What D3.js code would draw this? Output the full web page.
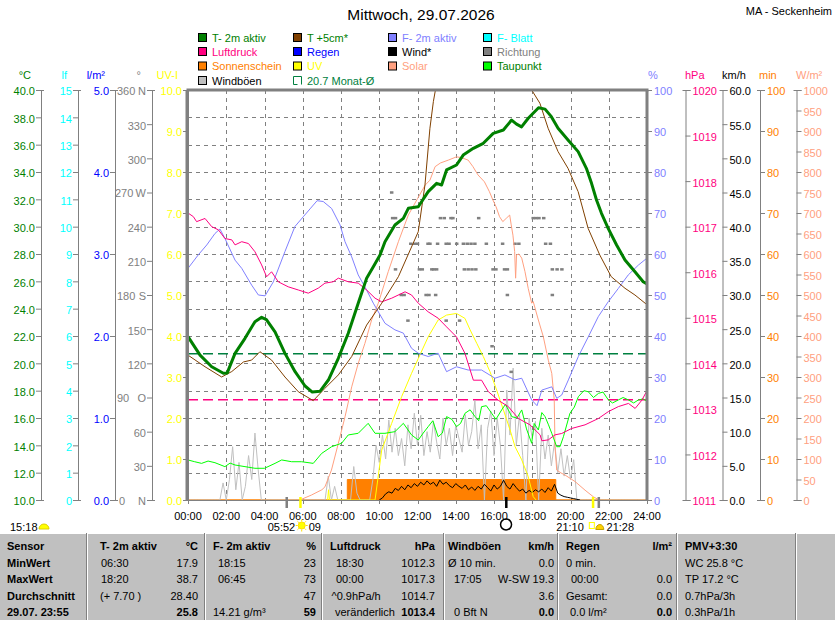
<!DOCTYPE html>
<html><head><meta charset="utf-8">
<script src="https://cdn.jsdelivr.net/npm/d3@7"></script>
<style>
body{margin:0;background:#fff;}
svg{display:block;font-family:"Liberation Sans",Arial,sans-serif;}
</style></head><body>
<svg id="c" width="835" height="620"></svg>
<script>
// ---------------- DATA ----------------
const title = "Mittwoch, 29.07.2026";
const station = "MA - Seckenheim";
const timeTicks = ["00:00","02:00","04:00","06:00","08:00","10:00","12:00","14:00","16:00","18:00","20:00","22:00","24:00"];

// [hour, °C]
const temp2m = [[0,21.95],[0.63,20.6],[1.24,19.75],[1.85,19.27],[2.05,19.3],[2.46,20.73],[2.98,21.83],[3.5,23.05],[3.85,23.37],[4.1,23.2],[4.55,22.3],[5.07,20.73],[5.6,19.39],[6.12,18.34],[6.5,17.9],[6.9,17.95],[7.34,18.78],[7.86,20.37],[8.38,22.2],[8.9,24.4],[9.34,26.22],[9.69,27.07],[10.04,27.93],[10.3,28.9],[10.82,30.12],[11.26,30.61],[11.52,31.34],[12.04,31.46],[12.56,32.56],[13.0,33.17],[13.26,33.05],[13.52,34.15],[14.04,34.51],[14.39,35.24],[14.92,35.73],[15.44,36.1],[15.96,36.83],[16.49,37.07],[16.92,37.8],[17.18,37.5],[17.44,37.3],[17.79,37.93],[18.33,38.7],[18.67,38.6],[19.0,38.05],[19.35,37.2],[19.87,36.34],[20.4,35.49],[20.83,34.27],[21.1,33.17],[21.36,31.95],[21.62,30.98],[21.97,29.88],[22.41,28.66],[22.85,27.56],[23.37,26.7],[23.8,25.97],[24,25.8]];
const temp5cm = [[0,20.6],[0.89,19.75],[1.76,19.0],[2.29,19.4],[2.9,20.1],[3.33,20.24],[3.76,20.85],[4.37,20.24],[5.07,19.0],[5.77,17.92],[6.55,17.27],[7.16,18.17],[7.86,19.15],[8.56,20.5],[9.34,22.8],[10.13,24.4],[11.0,26.34],[12.04,29.63],[12.39,33.05],[12.65,37.2],[12.83,39.15],[13.0,40.5],[13.5,44],[14.5,47],[15.5,48],[16.5,46.5],[17.5,42.5],[17.97,40.0],[18.4,39.03],[18.83,37.2],[19.35,35.49],[19.87,34.27],[20.4,32.56],[20.92,29.88],[21.53,27.93],[22.13,26.34],[22.85,25.49],[23.37,25.0],[23.9,24.4],[24,24.3]];
const dewPoint = [[0,12.93],[0.35,12.8],[0.71,12.68],[1.05,12.85],[1.41,12.73],[1.93,12.44],[2.2,12.7],[2.46,12.56],[2.98,12.44],[3.5,12.32],[4.0,12.32],[4.55,12.68],[4.9,12.93],[5.42,12.8],[5.94,12.8],[6.55,12.68],[6.99,13.41],[7.51,13.9],[8.03,14.15],[8.38,14.76],[8.9,14.88],[9.42,15.61],[9.78,14.88],[10.3,14.88],[10.82,15.0],[11.26,15.61],[11.69,14.76],[12.04,14.39],[12.3,14.9],[12.56,15.37],[12.8,15.8],[13.08,14.63],[13.3,14.9],[13.52,16.1],[13.8,15.9],[14.04,15.37],[14.25,15.6],[14.48,16.34],[14.75,16.6],[15.01,16.1],[15.2,15.8],[15.35,16.83],[15.6,16.9],[15.88,16.34],[16.1,15.9],[16.4,16.59],[16.6,17.0],[16.93,16.1],[17.2,16.0],[17.45,16.59],[17.7,15.2],[17.97,14.15],[18.1,15.6],[18.32,15.12],[18.5,16.4],[18.67,16.1],[18.85,15.5],[19.02,14.88],[19.28,13.9],[19.45,13.9],[19.63,14.63],[19.97,16.34],[20.2,16.8],[20.41,17.56],[20.7,18.0],[20.93,17.92],[21.2,17.5],[21.46,17.8],[21.7,17.9],[21.98,17.32],[22.2,17.1],[22.5,17.32],[22.75,17.5],[23.03,17.32],[23.3,17.1],[23.55,17.32],[23.8,17.4],[24,17.2]];
// [hour, %]
const humidity = [[0,56.5],[0.54,59.8],[0.98,62.2],[1.41,65.0],[1.67,66.1],[1.93,63.8],[2.46,58.5],[2.81,56.5],[3.33,52.4],[3.68,50.0],[4.03,49.8],[4.46,53.2],[5.07,60.6],[5.59,66.7],[6.03,69.1],[6.38,71.0],[6.75,73],[7.07,72.8],[7.51,71.1],[7.95,67.1],[8.21,63.0],[8.56,59.3],[8.9,54.9],[9.34,51.2],[9.69,48.0],[10.3,43.1],[10.82,41.5],[11.26,40.7],[11.69,37.0],[12.04,35.8],[12.56,35.0],[13.08,35.8],[13.52,31.3],[14.04,32.5],[14.65,31.7],[15.35,31.7],[16.05,29.7],[16.57,30.5],[17.1,29.3],[17.45,29.7],[17.97,24.4],[18.25,23],[18.5,26.8],[19.02,27.6],[19.28,24.8],[19.54,25.6],[19.89,29.3],[20.41,35],[20.93,39.8],[21.45,44.7],[21.98,48.4],[22.5,51.6],[23.02,54.9],[23.55,57.3],[24,59]];
// [hour, hPa]
const pressure = [[0,1017.3],[0.28,1017.22],[0.45,1017.11],[0.89,1017.18],[1.24,1017.0],[1.59,1016.93],[1.93,1016.74],[2.29,1016.71],[2.46,1016.6],[2.81,1016.67],[3.16,1016.63],[3.5,1016.45],[3.85,1016.16],[4.11,1015.9],[4.37,1016.01],[4.72,1015.79],[5.24,1015.68],[5.77,1015.61],[6.29,1015.54],[6.81,1015.65],[7.16,1015.76],[7.59,1015.79],[7.86,1015.87],[8.38,1015.79],[8.9,1015.76],[9.34,1015.61],[9.78,1015.43],[10.13,1015.35],[10.65,1015.43],[11.35,1015.57],[11.69,1015.5],[12.04,1015.32],[12.56,1015.13],[13.08,1014.99],[13.52,1014.8],[14.04,1014.58],[14.48,1014.22],[14.92,1013.63],[15.35,1013.63],[15.7,1013.38],[16.22,1013.19],[16.75,1013.05],[17.27,1012.79],[17.88,1012.65],[18.41,1012.43],[18.5,1012.3],[18.84,1012.32],[19.19,1012.43],[19.54,1012.46],[20.06,1012.57],[20.76,1012.65],[21.46,1012.79],[21.98,1012.94],[22.5,1013.05],[23.03,1013.12],[23.38,1013.01],[23.73,1013.19],[24,1013.4]];
// [hour, W/m²]
const solar = [[5.85,0],[6.45,12],[7.0,25],[7.16,32],[7.5,73],[7.86,138],[8.21,203],[8.56,276],[8.9,333],[9.25,382],[9.6,439],[9.95,480],[10.47,557],[11.0,630],[11.52,695],[12.0,735],[12.4,768],[12.65,780],[12.92,813],[13.2,822],[13.61,829],[14.04,837],[14.3,835],[14.65,829],[14.9,813],[15.16,793],[15.5,776],[15.76,752],[15.94,732],[16.11,715],[16.29,691],[16.46,679],[16.64,687],[16.82,695],[16.9,671],[16.99,646],[17.08,606],[17.13,541],[17.18,598],[17.3,600],[17.45,590],[17.62,557],[17.79,516],[17.97,480],[18.05,484],[18.32,439],[18.58,398],[18.84,341],[19.02,309],[19.15,244],[19.19,130],[19.28,73],[19.5,66],[19.71,61],[20.24,45],[20.76,24],[21.19,8],[21.5,0]];
// [hour, UV index]
const uv = [[7.3,0],[7.35,0.25],[7.4,0],[9.78,0],[10.13,1.22],[10.65,1.87],[11.17,2.52],[11.69,3.09],[12.04,3.45],[12.56,3.98],[13.08,4.39],[13.52,4.51],[14.04,4.55],[14.48,4.43],[14.75,4.15],[15.1,3.82],[15.44,3.5],[15.79,3.13],[16.14,2.68],[16.49,2.2],[16.84,1.71],[17.1,1.3],[17.45,0.98],[17.79,0.57],[18.05,0.08],[18.2,0]];
// sunshine minutes per interval: [hour, min]
const sunshine = [[0,0],[8.33,0],[8.33,5],[19.23,5],[19.23,0],[24,0]];
// gusts km/h, every 10 minutes from 00:00
const gust = [
 0,0,0,0,0,0, 0,0,0,0,0,2.5,
 0,3.0,7.8,1.5,5.5,0,
 2.0,6.5,3.0,9.8,4.5,0,
 0,0,0,0,0,0,
 0,0,0,0,0,0,
 0,0,0,0,0,0,
 0,0,3.5,0,2.0,0,
 0,0,0,0,4.9,1.0,
 0,0,0,0,3.0,8.0,
 5.5,9.5,6.0,11.7,7.0,10.5,
 6.5,9.0,5.0,11.0,7.5,12.7,
 8.0,12.4,6.5,10.0,7.0,11.5,
 8.5,6.0,12.0,8.0,10.5,6.5,
 11.0,9.0,7.0,12.5,8.0,10.0,
 14.6,7.5,11.0,0,10.5,13.0,
 6.5,12.0,8.0,0,16.1,9.5,
 19.3,8.0,12.5,6.5,0,12.0,
 9.0,11.5,0,10.5,6.0,9.5,
 5.0,8.5,4.0,7.5,3.5,6.5,
 3.0,5.9,0,0,0,0,
 0,0,0,0,0,0,
 0,0,0,0,0,0,
 0,0,0,0,0,0,
 0];
// mean wind km/h, every 10 minutes from 10:00
const windStartHour = 10;
const wind = [0,0.3,0.9,1.2,1.0,1.7, 1.4,2.0,1.5,2.2,1.8,2.4, 2.0,2.6,2.2,2.8,2.3,2.6, 2.0,2.9,2.3,2.6,2.1,1.8, 2.4,2.0,1.7,2.2,1.5,1.9, 1.4,2.0,1.6,2.3,1.8,1.3, 2.2,1.6,2.0,2.9,2.0,1.6, 2.4,1.8,1.3,1.6,1.0,1.4, 1.1,1.5,1.2,1.6,1.1,1.8, 1.3,2.3,1.0,0.7,0.5,0.4, 0.3,0.2,0.1,0];
// wind direction [hour, degrees]
const direction = [[10.65,270],[10.7,247.5],[10.85,247.5],[10.85,202.5],[11.15,180],[11.3,180],[11.5,157.5],[11.65,225],[11.85,225],[12.0,225],[12.1,202.5],[12.25,202.5],[12.45,180],[12.55,225],[12.65,225],[12.6,180],[12.75,202.5],[12.85,202.5],[12.95,180],[13.0,202.5],[13.05,225],[13.2,247.5],[13.4,247.5],[13.5,225],[13.5,157.5],[13.65,225],[13.75,247.5],[13.85,247.5],[14.05,225],[14.2,157.5],[14.4,225],[14.45,202.5],[14.6,225],[14.65,202.5],[14.8,225],[14.85,202.5],[15.0,225],[15.05,202.5],[15.2,247.5],[15.6,225],[15.9,135],[15.95,202.5],[16.1,202.5],[16.45,225],[16.55,202.5],[16.7,202.5],[16.7,180],[16.9,112.5],[17.1,225],[17.3,225],[18.05,247.5],[18.2,247.5],[18.35,247.5],[18.6,247.5],[18.7,225],[18.95,225],[19.05,202.5],[19.05,180],[19.3,202.5],[19.55,202.5]];
const monthAvgTemp = 20.7;
const pressureRef = 1013.2;
const dirLabels = {0:["0","N"],90:["90","O"],180:["180","S"],270:["270","W"],360:["360","N"]};
// astronomical events [hour]
const moonset = 5.15, sunrise = 5.867, moonPhaseTime = 16.63, sunset = 21.167, moonrise = 21.467;

const legendRows = [
 [["T- 2m aktiv","#008000","#008000"],["T +5cm*","#804000","#008000"],["F- 2m aktiv","#8080FF","#8080FF"],["F- Blatt","#00FFFF","#00FFFF"]],
 [["Luftdruck","#FF0080","#FF0080"],["Regen","#0000FF","#0000FF"],["Wind*","#000000","#000000"],["Richtung","#808080","#808080"]],
 [["Sonnenschein","#FF8000","#FF8000"],["UV","#FFFF00","#FFFF00"],["Solar","#FFA080","#FFA080"],["Taupunkt","#00FF00","#008000"]],
 [["Windböen","#C0C0C0","#000000"],["20.7 Monat-Ø",null,"#008040"]]
];

const tableRows = [
 ["Sensor", ["T- 2m aktiv","°C"], ["F- 2m aktiv","%"], ["Luftdruck","hPa"], ["Windböen","km/h"], ["Regen","l/m²"], ["PMV+3:30"]],
 ["MinWert", ["06:30","17.9"], ["18:15","23"], ["18:30","1012.3"], ["Ø 10 min.","0.0"], ["0 min.",""], ["WC 25.8 °C"]],
 ["MaxWert", ["18:20","38.7"], ["06:45","73"], ["00:00","1017.3"], ["17:05","W-SW 19.3"], ["00:00","0.0"], ["TP 17.2 °C"]],
 ["Durchschnitt", ["(+ 7.70 )","28.40"], ["","47"], ["^0.9hPa/h","1014.7"], ["","3.6"], ["Gesamt:","0.0"], ["0.7hPa/3h"]],
 ["29.07. 23:55", ["","25.8"], ["14.21 g/m³","59"], ["veränderlich","1013.4"], ["0 Bft N","0.0"], ["0.0 l/m²","0.0"], ["0.3hPa/1h"]]
];

// ---------------- DRAW ----------------
const svg = d3.select("#c");
const L = 188, R = 647, T = 90, B = 500;
const x = d3.scaleLinear([0,24],[L,R]);
const yT = d3.scaleLinear([10,40],[B,T]);
const yLf = d3.scaleLinear([0,15],[B,T]);
const yRain = d3.scaleLinear([0,5],[B,T]);
const yDir = d3.scaleLinear([0,360],[B,T]);
const yUV = d3.scaleLinear([0,10],[B,T]);
const yHum = d3.scaleLinear([0,100],[B,T]);
const yP = d3.scaleLinear([1011,1020],[B,T]);
const yWind = d3.scaleLinear([0,60],[B,T]);
const yMin = d3.scaleLinear([0,100],[B,T]);
const ySol = d3.scaleLinear([0,1000],[B,T]);

// title
svg.append("text").attr("x",421).attr("y",20).attr("text-anchor","middle").attr("font-size",15.5).text(title);
svg.append("text").attr("x",832).attr("y",15).attr("text-anchor","end").attr("font-size",11).text(station);

// legend
const colX = [198.5,293.5,388.5,483.5], rowY = [37.5,51.5,66,80.5];
legendRows.forEach((row,ri)=>row.forEach((it,ci)=>{
  const bx = colX[ci], by = rowY[ri];
  if(it[1]){
    svg.append("rect").attr("x",bx).attr("y",by-4).attr("width",8).attr("height",8).attr("fill",it[1]).attr("stroke","#000");
  } else {
    svg.append("path").attr("d",`M${bx+4},${by+4}H${bx}V${by-4}H${bx+8}V${by+4}`).attr("fill","none").attr("stroke",it[2]);
  }
  svg.append("text").attr("x",bx+13.5).attr("y",by+4).attr("font-size",11).attr("fill",it[2]).text(it[0]);
}));

// grid
const grid = svg.append("g").attr("stroke","#808080").attr("stroke-dasharray","4,4");
d3.range(2,24,2).forEach(h=>grid.append("line").attr("x1",Math.round(x(h))+0.5).attr("x2",Math.round(x(h))+0.5).attr("y1",T).attr("y2",B));
d3.range(12,40,2).forEach(t=>grid.append("line").attr("x1",L).attr("x2",R).attr("y1",Math.round(yT(t))+0.5).attr("y2",Math.round(yT(t))+0.5));

// clip
svg.append("clipPath").attr("id","pc").append("rect").attr("x",L).attr("y",T).attr("width",R-L).attr("height",B-T);
const P = svg.append("g").attr("clip-path","url(#pc)");

// reference lines
P.append("line").attr("x1",L).attr("x2",R).attr("y1",yT(monthAvgTemp)).attr("y2",yT(monthAvgTemp)).attr("stroke","#008040").attr("stroke-width",1.5).attr("stroke-dasharray","10,5");
P.append("line").attr("x1",L).attr("x2",R).attr("y1",yP(pressureRef)).attr("y2",yP(pressureRef)).attr("stroke","#FF0080").attr("stroke-width",1.5).attr("stroke-dasharray","10,5");

// sunshine
P.append("path").datum(sunshine).attr("d",d3.area().x(d=>x(d[0])).y0(B).y1(d=>yMin(d[1]))).attr("fill","#FF8000").attr("stroke","#FF8000").attr("stroke-width",1);

const line = (ys)=>d3.line().x(d=>x(d[0])).y(d=>ys(d[1]));
// gusts
P.append("path").datum(gust.map((v,i)=>[i/6,v])).attr("d",line(yWind)).attr("fill","none").attr("stroke","#C0C0C0").attr("stroke-width",1);
// wind
P.append("path").datum(wind.map((v,i)=>[windStartHour+i/6,v])).attr("d",line(yWind)).attr("fill","none").attr("stroke","#000").attr("stroke-width",1);
// direction
P.selectAll("rect.dir").data(direction).join("rect").attr("class","dir")
 .attr("x",d=>x(d[0])-1.75).attr("y",d=>yDir(d[1])-1.25).attr("width",3.5).attr("height",2.5).attr("fill","#808080");
// solar, uv
P.append("path").datum(solar).attr("d",line(ySol)).attr("fill","none").attr("stroke","#FFA080");
P.append("path").datum(uv).attr("d",line(yUV)).attr("fill","none").attr("stroke","#FFFF00");
// humidity
P.append("path").datum(humidity).attr("d",line(yHum)).attr("fill","none").attr("stroke","#8080FF");
// dew point
P.append("path").datum(dewPoint).attr("d",line(yT)).attr("fill","none").attr("stroke","#00FF00");
// pressure
P.append("path").datum(pressure).attr("d",line(yP)).attr("fill","none").attr("stroke","#FF0080");
// temps
P.append("path").datum(temp5cm).attr("d",line(yT)).attr("fill","none").attr("stroke","#804000");
P.append("path").datum(temp2m).attr("d",line(yT)).attr("fill","none").attr("stroke","#008000").attr("stroke-width",3).attr("stroke-linejoin","round");

// frame
svg.append("line").attr("x1",L).attr("x2",R).attr("y1",B+0.5).attr("y2",B+0.5).attr("stroke","#808080");
svg.append("line").attr("x1",L-1.5).attr("x2",R+1.5).attr("y1",T).attr("y2",T).attr("stroke","#808080").attr("stroke-width",3);
svg.append("line").attr("x1",L-1).attr("x2",L-1).attr("y1",T).attr("y2",B+1).attr("stroke","#808080").attr("stroke-width",3);
svg.append("line").attr("x1",R).attr("x2",R).attr("y1",T).attr("y2",B+1).attr("stroke","#808080").attr("stroke-width",3);

// x axis
const xa = svg.append("g");
timeTicks.forEach((lab,i)=>{
  const h = i*2;
  xa.append("line").attr("x1",Math.round(x(h))+0.5).attr("x2",Math.round(x(h))+0.5).attr("y1",B).attr("y2",B+4).attr("stroke","#808080");
  xa.append("text").attr("x",x(h)).attr("y",519.5).attr("text-anchor","middle").attr("font-size",11).text(lab);
});

// vertical axes
function vAxis(scale, xPos, side, ticks, fmt, color){
  const ax = (side==="left"?d3.axisLeft(scale):d3.axisRight(scale)).tickValues(ticks).tickFormat(fmt).tickSize(5).tickSizeOuter(0).tickPadding(side==="left"?1:2);
  const g = svg.append("g").attr("transform",`translate(${xPos},0)`).call(ax).attr("font-family",null).attr("font-size",11);
  g.select(".domain").attr("stroke","#808080");
  g.selectAll(".tick line").attr("stroke","#808080");
  g.selectAll(".tick text").attr("fill",color).attr("dy","0.45em");
  scale.range().forEach(y=>g.append("line").attr("x1",side==="left"?-5:-3).attr("x2",side==="left"?3:5).attr("y1",Math.round(y)+0.5).attr("y2",Math.round(y)+0.5).attr("stroke","#808080"));
  return g;
}
vAxis(yT,41,"left",d3.range(10,41,2),d3.format(".1f"),"#008000");
vAxis(yLf,78,"left",d3.range(0,16,1),d3.format("d"),"#00FFFF");
vAxis(yRain,115,"left",d3.range(0,6,1),d3.format(".1f"),"#0000FF");
const gd = vAxis(yDir,152,"left",d3.range(0,361,30),d=>dirLabels[d]?"":d,"#808080");
Object.keys(dirLabels).forEach(k=>{
  const y = yDir(+k);
  gd.append("text").attr("x",+k===270?-37:(+k===0?-33:-35)).attr("y",y).attr("dy","0.45em").attr("text-anchor","start").attr("fill","#808080").text(dirLabels[k][0]);
  gd.append("text").attr("x",-6).attr("y",y).attr("dy","0.45em").attr("text-anchor","end").attr("fill","#808080").text(dirLabels[k][1]);
});
vAxis(yUV,L,"left",d3.range(0,11,1),d3.format(".1f"),"#FFFF00");
vAxis(yHum,R,"right",d3.range(0,101,10),d3.format("d"),"#8080FF");
vAxis(yP,685.5,"right",d3.range(1011,1021,1),d3.format("d"),"#FF0080");
vAxis(yWind,722.5,"right",d3.range(0,61,5),d3.format(".1f"),"#000000");
vAxis(yMin,760,"right",d3.range(0,101,10),d3.format("d"),"#FF8000");
vAxis(ySol,796.5,"right",d3.range(0,1001,50),d3.format("d"),"#FFA080");

// axis headers
[["°C",31,"end","#008000"],["lf",67,"end","#00FFFF"],["l/m²",105,"end","#0000FF"],["°",141,"end","#808080"],["UV-I",178,"end","#FFFF00"],
 ["%",648,"start","#8080FF"],["hPa",685,"start","#FF0080"],["km/h",722,"start","#000000"],["min",759,"start","#FF8000"],["W/m²",796,"start","#FFA080"]]
 .forEach(h=>svg.append("text").attr("x",h[1]).attr("y",78.5).attr("text-anchor",h[2]).attr("font-size",11).attr("fill",h[3]).text(h[0]));

// astronomical markers
[[moonset,"#808080"],[sunrise,"#FFFF00"],[moonPhaseTime,"#000000"],[sunset,"#FFFF00"],[moonrise,"#808080"]].forEach(m=>
  svg.append("rect").attr("x",x(m[0])-1).attr("y",497).attr("width",2.5).attr("height",11).attr("fill",m[1]));
function sun(cx,cy){
  const g = svg.append("g").attr("stroke","#FFE000").attr("fill","#FFFF00");
  d3.range(8).forEach(i=>{const a=i*Math.PI/4;g.append("line").attr("x1",cx+4*Math.cos(a)).attr("y1",cy+4*Math.sin(a)).attr("x2",cx+6*Math.cos(a)).attr("y2",cy+6*Math.sin(a));});
  g.append("circle").attr("cx",cx).attr("cy",cy).attr("r",3.5);
}
const hm = h=>{const hh=Math.floor(h), mm=Math.round((h-hh)*60);return String(hh).padStart(2,"0")+":"+String(mm).padStart(2,"0");};
const row2 = 530.5;
svg.append("text").attr("x",x(sunrise)-5).attr("y",row2).attr("text-anchor","end").attr("font-size",11).text(hm(sunrise));
sun(x(sunrise)+1.5,525.5);
svg.append("text").attr("x",x(sunrise)+8.5).attr("y",row2).attr("font-size",11).text(hm(moonset).slice(3));
svg.append("text").attr("x",x(sunset)-9).attr("y",row2).attr("text-anchor","end").attr("font-size",11).text(hm(sunset));
svg.append("rect").attr("x",x(sunset)-3.5).attr("y",522.5).attr("width",5).attr("height",6).attr("fill","none").attr("stroke","#FFFF00");
svg.append("path").attr("d",`M${x(sunset)+3},529.5 a4,5 0 0 1 8,0 z`).attr("fill","#FFD000").attr("stroke","#C0A000");
svg.append("text").attr("x",x(moonrise)+8).attr("y",row2).attr("font-size",11).text(hm(moonrise));
svg.append("circle").attr("cx",x(moonPhaseTime)).attr("cy",524.5).attr("r",5.5).attr("fill","none").attr("stroke","#000").attr("stroke-width",1.5);
const dayLen = sunset - sunrise;
svg.append("text").attr("x",10).attr("y",row2).attr("font-size",11).text(hm(dayLen+0.001));
svg.append("path").attr("d","M39,529 a5,5 0 0 1 10,0 z").attr("fill","#FFFF00").attr("stroke","#E0D000");

// table
const TY = 533;
svg.append("rect").attr("x",0).attr("y",TY).attr("width",835).attr("height",620-TY).attr("fill","#C0C0C0");
svg.append("line").attr("x1",0).attr("x2",835).attr("y1",TY+0.5).attr("y2",TY+0.5).attr("stroke","#FFFFFF");
[87,205,322,444,558,677,796].forEach(cx=>{
  svg.append("line").attr("x1",cx-0.5).attr("x2",cx-0.5).attr("y1",TY).attr("y2",620).attr("stroke","#808080");
  svg.append("line").attr("x1",cx+0.5).attr("x2",cx+0.5).attr("y1",TY).attr("y2",620).attr("stroke","#FFFFFF");
});
const cols = [{l:100,i:101,r:198},{l:213,i:218,r:316},{l:330,i:336,r:435},{l:448,i:454,r:554},{l:566,i:571,r:672},{l:685}];
const leftX = [ [100,101,101,100,100], [213,218,218,213,213], [330,336,336,331.5,335], [448,448,454,454,454], [566,566,571,566,570] ];
const rowBase = [550,566.5,583,599.5,615.5];
const TT = svg.append("g").attr("font-size",11);
tableRows.forEach((row,ri)=>{
  TT.append("text").attr("x",7).attr("y",rowBase[ri]).attr("font-weight","bold").text(row[0]);
  row.slice(1).forEach((cell,ci)=>{
    const c = cols[ci];
    if(ci<5){
      TT.append("text").attr("x",leftX[ci][ri]).attr("y",rowBase[ri]).attr("font-weight",ri===0?"bold":null).text(cell[0]);
      TT.append("text").attr("x",c.r).attr("y",rowBase[ri]).attr("text-anchor","end").attr("font-weight",(ri===0||ri===4)?"bold":null).text(cell[1]);
    } else {
      TT.append("text").attr("x",c.l).attr("y",rowBase[ri]).attr("font-weight",ri===0?"bold":null).text(cell[0]);
    }
  });
});
</script>
</body></html>
